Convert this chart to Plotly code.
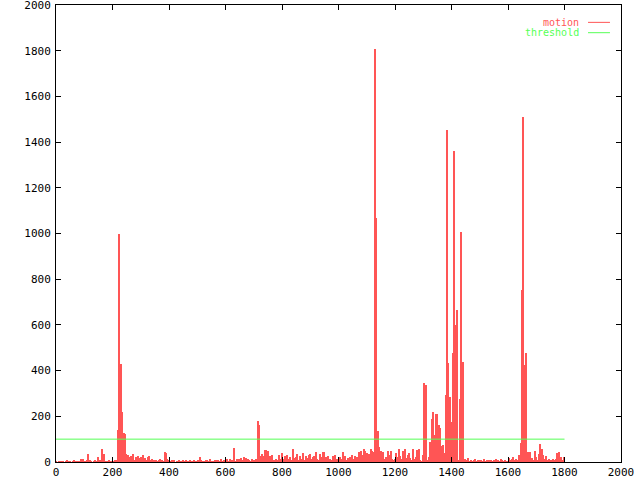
import plotly.graph_objects as go

frame_step = 5
motion = (
    [3, 0, 2, 0, 4, 1, 0, 2, 10, 3]
    + [2, 0, 1, 10, 3, 0, 2, 4, 15, 14]
    + [3, 2, 5, 35, 10, 2, 0, 3, 5, 2]
    + [20, 5, 8, 55, 36, 4, 2, 3, 9, 4]
    + [3, 2, 6, 10, 139, 1000, 427, 219, 125, 123]
    + [36, 30, 20, 25, 15, 33, 10, 22, 28, 18]
    + [24, 12, 29, 17, 8, 20, 27, 10, 14, 6]
    + [10, 5, 3, 8, 12, 6, 4, 45, 39, 15]
    + [8, 3, 5, 2, 6, 0, 4, 7, 2, 3]
    + [5, 2, 6, 3, 1, 7, 4, 2, 5, 3]
    + [3, 5, 23, 6, 2, 4, 8, 10, 3, 14]
    + [4, 3, 2, 5, 10, 8, 3, 14, 2, 5]
    + [6, 13, 4, 14, 3, 10, 60, 4, 12, 8]
    + [15, 17, 10, 23, 5, 19, 13, 6, 4, 14]
    + [10, 4, 13, 181, 163, 25, 36, 25, 54, 54]
    + [50, 20, 25, 32, 10, 6, 14, 8, 32, 12]
    + [39, 12, 25, 8, 30, 14, 20, 6, 58, 18]
    + [22, 35, 10, 28, 14, 38, 8, 26, 17, 30]
    + [35, 12, 20, 28, 42, 15, 9, 33, 20, 45]
    + [43, 20, 10, 27, 14, 8, 25, 16, 30, 12]
    + [6, 20, 12, 42, 15, 28, 10, 18, 24, 9]
    + [30, 14, 25, 20, 18, 45, 48, 30, 56, 48]
    + [40, 25, 35, 55, 50, 45, 1806, 1066, 137, 64]
    + [48, 23, 45, 12, 20, 50, 30, 49, 15, 10]
    + [12, 39, 20, 56, 25, 15, 50, 56, 18, 30]
    + [38, 16, 8, 55, 12, 20, 52, 56, 5, 3]
    + [30, 344, 335, 5, 20, 89, 187, 219, 118, 210]
    + [210, 162, 147, 70, 73, 40, 293, 1453, 432, 286]
    + [176, 476, 1361, 600, 665, 8, 274, 1005, 439, 10]
    + [12, 6, 16, 4, 10, 2, 8, 14, 3, 7]
    + [5, 9, 3, 12, 4, 7, 2, 10, 5, 3]
    + [8, 3, 11, 5, 2, 14, 6, 4, 9, 3]
    + [4, 16, 6, 13, 20, 8, 15, 10, 30, 82]
    + [753, 1511, 424, 476, 45, 3, 42, 16, 10, 47]
    + [20, 10, 35, 80, 56, 30, 12, 25, 8, 15]
    + [10, 6, 14, 5, 12, 39, 43, 10, 20, 8, 22]
)
frames = [i * frame_step for i in range(len(motion))]

threshold_x = [0, 1800]
threshold_y = [100, 100]

x_ticks = [0, 200, 400, 600, 800, 1000, 1200, 1400, 1600, 1800, 2000]
y_ticks = [0, 200, 400, 600, 800, 1000, 1200, 1400, 1600, 1800, 2000]

RED = "#ff5555"
GREEN = "#55ff55"
FONT = "DejaVu Sans Mono"

fig = go.Figure()
fig.add_trace(go.Bar(x=frames, y=motion, width=frame_step,
                     marker=dict(color=RED, line=dict(width=0)),
                     name="motion", showlegend=False))
fig.add_trace(go.Scatter(x=threshold_x, y=threshold_y, mode="lines",
                         line=dict(color=GREEN, width=1),
                         name="threshold", showlegend=False))

axis_common = dict(showgrid=False, zeroline=False, showline=True,
                   linecolor="black", linewidth=1, mirror="allticks",
                   ticks="inside", ticklen=5, tickcolor="black", tickwidth=1,
                   automargin=False, ticklabeloverflow="allow",
                   tickfont=dict(family=FONT, size=11, color="black"))
fig.update_xaxes(range=[0, 2000], tickvals=x_ticks, ticklabelstandoff=0,
                 **axis_common)
fig.update_yaxes(range=[0, 2000], tickvals=y_ticks, ticklabelstandoff=2,
                 **axis_common)

# gnuplot-style key: text right-aligned, sample line to its right
key_rows = [("motion", RED, 0.962), ("threshold", GREEN, 0.9394)]
for label, col, yy in key_rows:
    fig.add_annotation(x=0.9274, y=yy, xref="paper", yref="paper",
                       text=label, showarrow=False, xanchor="right",
                       yanchor="middle", borderpad=0,
                       font=dict(family=FONT, size=10, color=col))
    fig.add_shape(type="line", xref="paper", yref="paper",
                  x0=0.9416, x1=0.9805, y0=yy, y1=yy,
                  line=dict(color=col, width=1))

fig.update_layout(width=640, height=480,
                  margin=dict(l=56, r=19, t=5, b=18),
                  paper_bgcolor="white", plot_bgcolor="white",
                  bargap=0, showlegend=False)

fig.write_html("out.html",
               config={"displayModeBar": False},
               post_script="document.body.style.margin='0';")
